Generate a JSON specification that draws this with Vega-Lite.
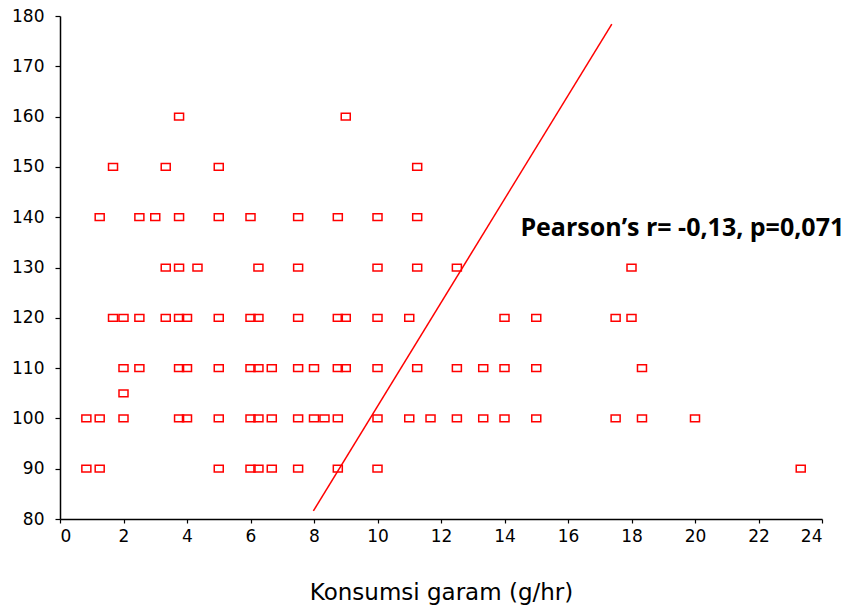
{
  "$schema": "https://vega.github.io/schema/vega-lite/v6.json",
  "width": 762,
  "height": 503,
  "autosize": "none",
  "padding": {"left": 60, "top": 16, "right": 29, "bottom": 89},
  "background": "white",
  "config": {"view": {"stroke": null}},
  "datasets": {
    "pts": [
      {"x": 3.75, "y": 160}, {"x": 9.0, "y": 160},
      {"x": 1.67, "y": 150}, {"x": 3.33, "y": 150}, {"x": 5.0, "y": 150}, {"x": 11.25, "y": 150},
      {"x": 1.25, "y": 140}, {"x": 2.5, "y": 140}, {"x": 3.0, "y": 140}, {"x": 3.75, "y": 140}, {"x": 5.0, "y": 140}, {"x": 6.0, "y": 140}, {"x": 7.5, "y": 140}, {"x": 8.75, "y": 140}, {"x": 10.0, "y": 140}, {"x": 11.25, "y": 140},
      {"x": 3.33, "y": 130}, {"x": 3.75, "y": 130}, {"x": 4.33, "y": 130}, {"x": 6.25, "y": 130}, {"x": 7.5, "y": 130}, {"x": 10.0, "y": 130}, {"x": 11.25, "y": 130}, {"x": 12.5, "y": 130}, {"x": 18.0, "y": 130},
      {"x": 1.67, "y": 120}, {"x": 2.0, "y": 120}, {"x": 2.5, "y": 120}, {"x": 3.33, "y": 120}, {"x": 3.75, "y": 120}, {"x": 4.0, "y": 120}, {"x": 5.0, "y": 120}, {"x": 6.0, "y": 120}, {"x": 6.25, "y": 120}, {"x": 7.5, "y": 120}, {"x": 8.75, "y": 120}, {"x": 9.0, "y": 120}, {"x": 10.0, "y": 120}, {"x": 11.0, "y": 120}, {"x": 14.0, "y": 120}, {"x": 15.0, "y": 120}, {"x": 17.5, "y": 120}, {"x": 18.0, "y": 120},
      {"x": 2.0, "y": 110}, {"x": 2.5, "y": 110}, {"x": 3.75, "y": 110}, {"x": 4.0, "y": 110}, {"x": 5.0, "y": 110}, {"x": 6.0, "y": 110}, {"x": 6.25, "y": 110}, {"x": 6.67, "y": 110}, {"x": 7.5, "y": 110}, {"x": 8.0, "y": 110}, {"x": 8.75, "y": 110}, {"x": 9.0, "y": 110}, {"x": 10.0, "y": 110}, {"x": 11.25, "y": 110}, {"x": 12.5, "y": 110}, {"x": 13.33, "y": 110}, {"x": 14.0, "y": 110}, {"x": 15.0, "y": 110}, {"x": 18.33, "y": 110},
      {"x": 2.0, "y": 105},
      {"x": 0.83, "y": 100}, {"x": 1.25, "y": 100}, {"x": 2.0, "y": 100}, {"x": 3.75, "y": 100}, {"x": 4.0, "y": 100}, {"x": 5.0, "y": 100}, {"x": 6.0, "y": 100}, {"x": 6.25, "y": 100}, {"x": 6.67, "y": 100}, {"x": 7.5, "y": 100}, {"x": 8.0, "y": 100}, {"x": 8.33, "y": 100}, {"x": 8.75, "y": 100}, {"x": 10.0, "y": 100}, {"x": 11.0, "y": 100}, {"x": 11.67, "y": 100}, {"x": 12.5, "y": 100}, {"x": 13.33, "y": 100}, {"x": 14.0, "y": 100}, {"x": 15.0, "y": 100}, {"x": 17.5, "y": 100}, {"x": 18.33, "y": 100}, {"x": 20.0, "y": 100},
      {"x": 0.83, "y": 90}, {"x": 1.25, "y": 90}, {"x": 5.0, "y": 90}, {"x": 6.0, "y": 90}, {"x": 6.25, "y": 90}, {"x": 6.67, "y": 90}, {"x": 7.5, "y": 90}, {"x": 8.75, "y": 90}, {"x": 10.0, "y": 90}, {"x": 23.33, "y": 90}
    ],
    "fit": [{"x": 7.98, "y": 81.6}, {"x": 17.38, "y": 178.4}],
    "note": [{"x": 14.5, "y": 136.2, "label": "Pearson’s r= -0,13, p=0,071"}]
  },
  "layer": [
    {
      "data": {"name": "pts"},
      "mark": {"type": "point", "shape": "M-1,-0.75L1,-0.75L1,0.75L-1,0.75Z", "size": 81, "filled": false, "color": "#ff0000", "strokeWidth": 1.5, "opacity": 1},
      "encoding": {
        "x": {
          "field": "x", "type": "quantitative",
          "scale": {"domain": [0, 24], "nice": false, "zero": false},
          "axis": {
            "values": [0, 2, 4, 6, 8, 10, 12, 14, 16, 18, 20, 22, 24],
            "title": "Konsumsi garam (g/hr)", "grid": false,
            "domainColor": "black", "domainWidth": 1.5, "tickColor": "black", "tickSize": 4, "tickWidth": 1.2,
            "labelFont": "DejaVu Sans", "labelFontSize": 17, "labelColor": "black", "labelPadding": 5,
            "titleFont": "DejaVu Sans", "titleFontSize": 23, "titleFontWeight": "normal", "titleColor": "black", "titlePadding": 37
          }
        },
        "y": {
          "field": "y", "type": "quantitative",
          "scale": {"domain": [80, 180], "nice": false, "zero": false},
          "axis": {
            "values": [80, 90, 100, 110, 120, 130, 140, 150, 160, 170, 180],
            "title": null, "grid": false,
            "domainColor": "black", "domainWidth": 1.5, "tickColor": "black", "tickSize": 5, "tickWidth": 1.2,
            "labelFont": "DejaVu Sans", "labelFontSize": 17, "labelColor": "black", "labelPadding": 11
          }
        }
      }
    },
    {
      "data": {"name": "fit"},
      "mark": {"type": "line", "color": "#ff0000", "strokeWidth": 1.5},
      "encoding": {
        "x": {"field": "x", "type": "quantitative"},
        "y": {"field": "y", "type": "quantitative"}
      }
    },
    {
      "data": {"name": "note"},
      "mark": {"type": "text", "align": "left", "baseline": "alphabetic", "font": "Open Sans", "fontWeight": "bold", "fontSize": 25, "color": "black"},
      "encoding": {
        "x": {"field": "x", "type": "quantitative"},
        "y": {"field": "y", "type": "quantitative"},
        "text": {"field": "label"}
      }
    }
  ]
}
